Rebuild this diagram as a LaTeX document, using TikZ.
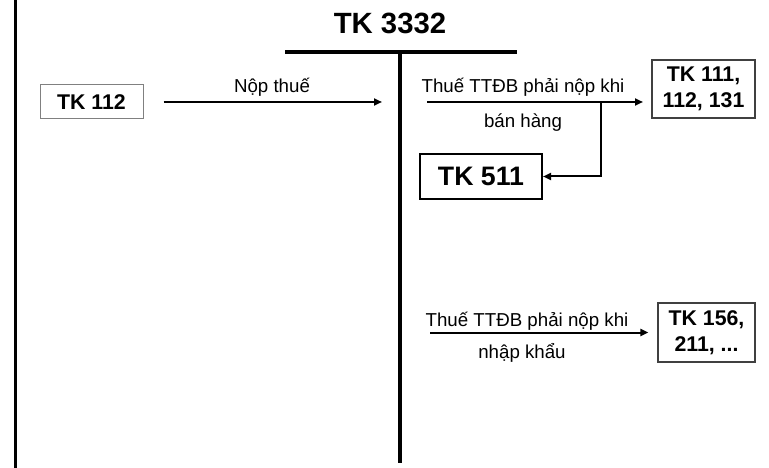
\documentclass[tikz,border=0pt]{standalone}
\usepackage{fontspec}
\setmainfont{Liberation Sans}
\usetikzlibrary{arrows.meta}

\begin{document}
\begin{tikzpicture}[x=1pt,y=-1pt,
  box/.style={draw=black!75,line width=1.2pt,align=center,inner sep=0pt,font=\fontsize{21.3}{26}\selectfont\bfseries},
  lbl/.style={font=\fontsize{18.7}{22}\selectfont},
  arr/.style={line width=2pt,-{Triangle[length=8pt,width=7pt]}}]
\useasboundingbox (0,0) rectangle (769,468);
% khung chu T
\draw[line width=3pt] (15,0) -- (15,468);
\node[font=\fontsize{29.3}{34}\selectfont\bfseries] (title) at (390,23) {TK 3332};
\draw[line width=3.5pt] (285,52) -- (517,52);
\draw[line width=3.5pt] (400,52) -- (400,463);

% ben no
\node[box,draw=black!50,line width=1pt,minimum width=103,minimum height=34] (k112) at (91.5,102) {TK 112};
\coordinate (n1) at (382,102);
\draw[arr,shorten <=20pt] (k112) -- (n1);
\node[lbl] (nop) at (272,87) {Nộp thuế};

% ben co
\node[box,minimum width=103,minimum height=58] (k111) at (703.5,89) {TK 111,\\112, 131};
\coordinate (s2) at (427,102);
\coordinate (e2) at (643,102);
\coordinate (b2) at (601,102);
\draw[arr] (s2) -- (e2);
\node[lbl] (ban1) at (523,87) {Thuế TTĐB phải nộp khi};
\node[lbl] (ban2) at (523,123) {bán hàng};
\node[box,draw=black,line width=2pt,font=\fontsize{26.7}{30}\selectfont\bfseries,minimum width=122,minimum height=45] (k511) at (481,176.5) {TK 511};
\draw[arr] (b2) |- (k511);

\node[box,minimum width=97,minimum height=59] (k156) at (706.5,332.5) {TK 156,\\211, ...};
\coordinate (s3) at (430,332.5);
\draw[arr,shorten >=9pt] (s3) -- (k156);
\node[lbl] (nk1) at (527,321) {Thuế TTĐB phải nộp khi};
\node[lbl] (nk2) at (522,353) {nhập khẩu};
\end{tikzpicture}
\end{document}
